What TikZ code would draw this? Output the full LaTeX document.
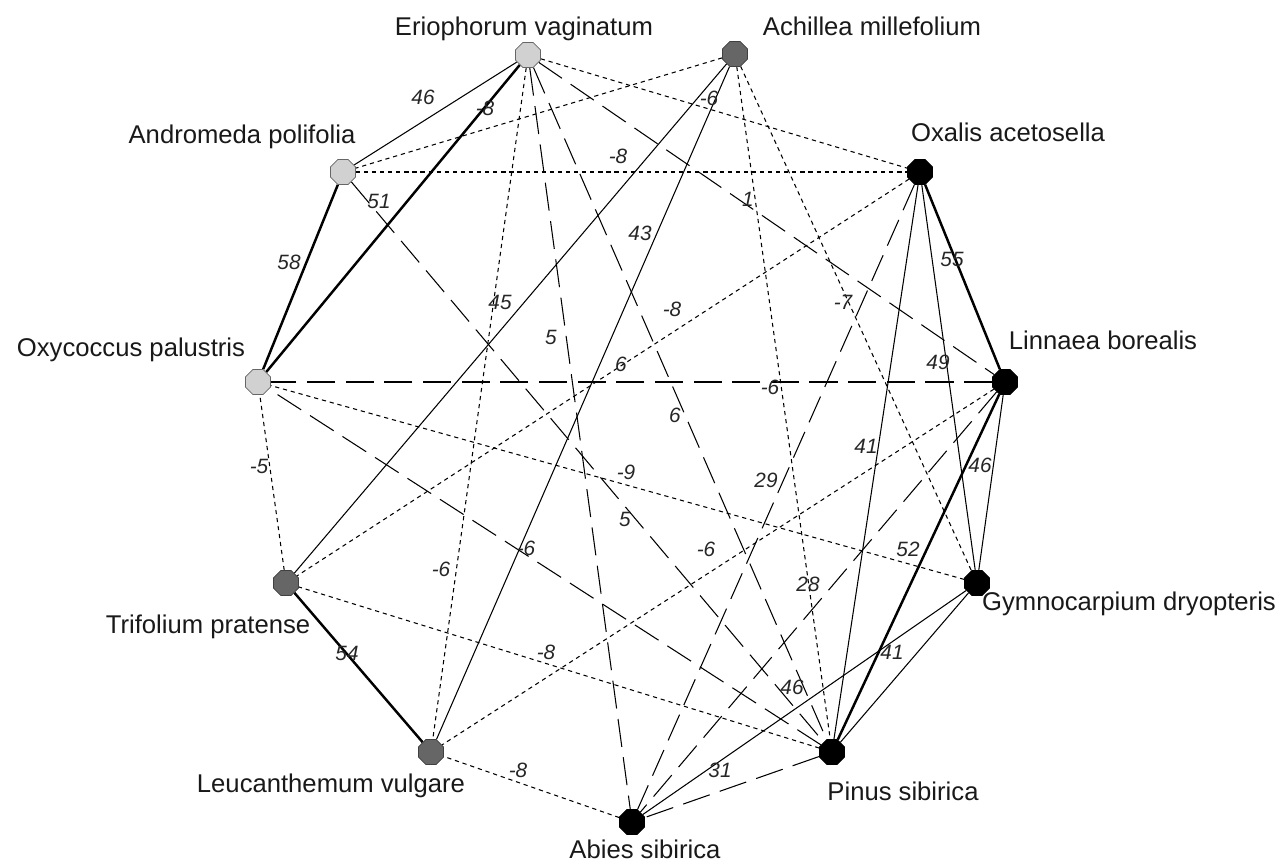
\documentclass[tikz,border=0pt]{standalone}
\usepackage{fontspec}
\setmainfont{Liberation Sans}
\usetikzlibrary{shapes.geometric, backgrounds}

\tikzset{
  species/.style={regular polygon, regular polygon sides=8, minimum size=0.54cm, inner sep=0pt, line width=0.4pt},
  light/.style={species, fill=black!18, draw=black!60},
  mid/.style={species, fill=black!60, draw=black!75},
  dark/.style={species, fill=black, draw=black},
  sptext/.style={font=\fontsize{14.6}{17}\selectfont, inner sep=0pt, anchor=base, text=black!90},
  weight/.style={font=\fontsize{11.8}{13}\selectfont\itshape, inner sep=0pt, text=black!85},
  strongedge/.style={line width=1.4pt},
  plainedge/.style={line width=0.6pt},
  dotedge/.style={line width=0.6pt, dash pattern=on 2.4pt off 2.2pt},
  longedge/.style={line width=0.6pt, dash pattern=on 16pt off 6pt}
}

\begin{document}
\begin{tikzpicture}[x=0.02cm, y=-0.02cm]
\useasboundingbox (0,0) rectangle (1288,864);

% species
\node[light] (erio)   at (528,55)  {};
\node[mid]   (achil)  at (735,54)  {};
\node[dark]  (oxalis) at (920,172) {};
\node[dark]  (linn)   at (1005,382) {};
\node[dark]  (gymno)  at (977,583) {};
\node[dark]  (pinus)  at (832,752) {};
\node[dark]  (abies)  at (632,822) {};
\node[mid]   (leuc)   at (431,752) {};
\node[mid]   (trif)   at (286,583) {};
\node[light] (oxyc)   at (258,382) {};
\node[light] (andr)   at (343,172) {};

% species names
\node[sptext] (erio-t)   at (524,36)  {Eriophorum vaginatum};
\node[sptext] (achil-t)  at (872,36)  {Achillea millefolium};
\node[sptext] (oxalis-t) at (1008,142) {Oxalis acetosella};
\node[sptext] (andr-t)   at (242,144) {Andromeda polifolia};
\node[sptext] (oxyc-t)   at (131,357) {Oxycoccus palustris};
\node[sptext] (linn-t)   at (1103,350) {Linnaea borealis};
\node[sptext] (gymno-t)  at (1129,610) {Gymnocarpium dryopteris};
\node[sptext] (trif-t)   at (208,633) {Trifolium pratense};
\node[sptext] (leuc-t)   at (331,792) {Leucanthemum vulgare};
\node[sptext] (pinus-t)  at (903,800) {Pinus sibirica};
\node[sptext] (abies-t)  at (645,858) {Abies sibirica};

% connections
\begin{scope}[on background layer]
\foreach \a/\b in {erio/oxyc, andr/oxyc, oxalis/linn, linn/pinus, trif/leuc}
  \draw[strongedge] (\a) -- (\b);
\foreach \a/\b in {erio/andr, achil/trif, achil/leuc, oxalis/gymno, oxalis/pinus,
                   linn/gymno, gymno/pinus, gymno/abies}
  \draw[plainedge] (\a) -- (\b);
\foreach \a/\b in {erio/oxalis, erio/leuc, achil/andr, achil/pinus, achil/gymno,
                   andr/oxalis, oxalis/trif, linn/leuc, gymno/oxyc, pinus/trif,
                   abies/leuc, trif/oxyc}
  \draw[dotedge] (\a) -- (\b);
\foreach \a/\b in {erio/linn, erio/pinus, erio/abies, andr/pinus, oxalis/abies,
                   linn/oxyc, linn/abies, pinus/oxyc, pinus/abies}
  \draw[longedge] (\a) -- (\b);
\end{scope}

% weights
\foreach \x/\y/\w [count=\i] in {423/97/46, 485/108/-8, 379/201/51, 289/262/58,
    500/302/45, 618/156/-8, 709/98/-6, 748/199/1, 640/233/43, 952/259/55,
    843/302/-7, 672/309/-8, 259/466/-5, 551/337/5, 621/364/6, 626/472/-9,
    625/519/5, 526/548/-6, 441/569/-6, 770/387/-6, 675/415/6, 766/480/29,
    938/362/49, 866/446/41, 980/465/46, 706/549/-6, 908/549/52, 347/653/54,
    546/652/-8, 518/770/-8, 808/584/28, 892/652/41, 792/687/46, 720/770/31}
  \node[weight] (w\i) at (\x,\y) {\w};
\end{tikzpicture}
\end{document}
